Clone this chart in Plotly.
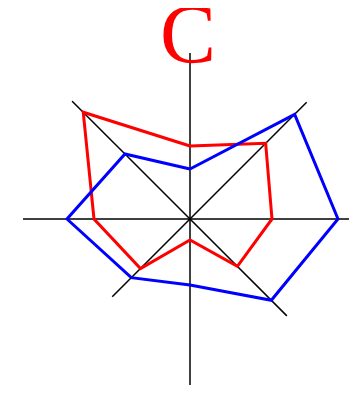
import plotly.graph_objects as go

# Eight spokes, angles in degrees (counterclockwise from east)
angles = [90, 45, 0, 315, 270, 225, 180, 135]
# Length of each black spoke
axis_len = [166, 165, 166, 137, 166, 110, 167, 167]
# Series values along each spoke
red_vals = [73, 107, 82, 67, 21, 70, 96, 151]
blue_vals = [50, 148, 148, 115, 66, 83, 123, 92]

fig = go.Figure()

# spokes
for a, L in zip(angles, axis_len):
    fig.add_trace(go.Scatterpolar(
        r=[0, L], theta=[a, a], mode="lines",
        line=dict(color="black", width=1.5), hoverinfo="skip"
    ))

for vals, col in [(red_vals, "#ff0000"), (blue_vals, "#0000ff")]:
    fig.add_trace(go.Scatterpolar(
        r=vals + vals[:1], theta=angles + angles[:1], mode="lines",
        line=dict(color=col, width=3)
    ))

# page body has an 8px margin, so figure coords are page coords minus 8
W, H = 349, 388
cx, cy, R = 182, 211, 167
fig.update_layout(
    width=W, height=H,
    margin=dict(l=0, r=0, t=0, b=0),
    paper_bgcolor="white",
    showlegend=False,
    polar=dict(
        domain=dict(x=[(cx - R) / W, (cx + R) / W], y=[1 - (cy + R) / H, 1 - (cy - R) / H]),
        bgcolor="white",
        radialaxis=dict(visible=False, range=[0, R], showgrid=False, showline=False),
        angularaxis=dict(visible=False, showgrid=False, showline=False,
                         direction="counterclockwise", rotation=0),
    ),
    annotations=[dict(
        text="C", x=179.5 / W, y=1.0, xref="paper", yref="paper",
        xanchor="center", yanchor="top", showarrow=False, yshift=22,
        font=dict(family="Liberation Serif", size=84, color="#ff0000")
    )],
)

fig.write_html("out.html")
